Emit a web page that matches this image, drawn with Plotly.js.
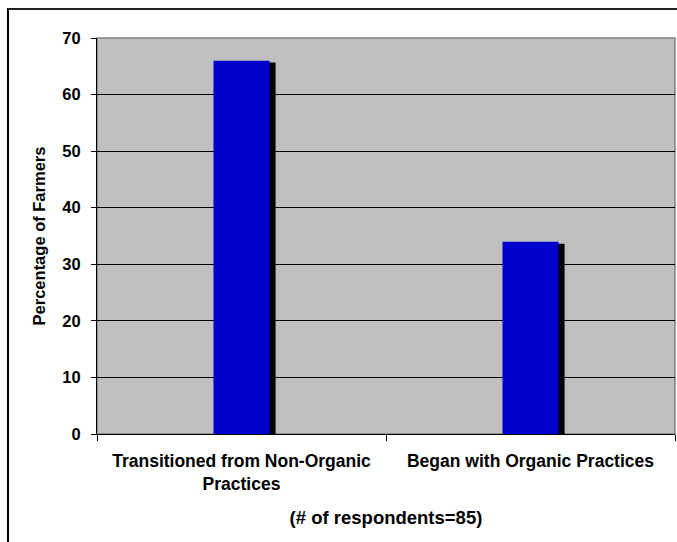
<!DOCTYPE html>
<html>
<head>
<meta charset="utf-8">
<script src="https://cdn.plot.ly/plotly-3.0.1.min.js"></script>
<style>
html,body{margin:0;padding:0;background:#fff;overflow:hidden;}
#wrap{position:relative;width:677px;height:542px;}
#frame{position:absolute;left:7px;top:8px;width:720px;height:600px;border-left:2px solid #000;border-top:2px solid #222;pointer-events:none;z-index:5;}
#chart{position:absolute;left:0;top:0;width:677px;height:542px;}
</style>
</head>
<body>
<div id="wrap">
<div id="chart"></div>
<div id="frame"></div>
</div>
<script>
const categories = ["Transitioned from Non-Organic<br>Practices", "Began with Organic Practices"];
const percentages = [66, 34];
const yTicks = [0, 10, 20, 30, 40, 50, 60, 70];
const yTitle = "Percentage of Farmers";
const xTitle = "(# of respondents=85)";

const barW = 0.194;
const shadowDx = 0.021;
const shadowDy = 0.35;

const shadow = {
  type: 'bar', x: categories, y: percentages.map(v => v - shadowDy),
  width: barW, offset: -barW/2 + shadowDx,
  marker: {color: '#000000', line: {width: 0}},
  hoverinfo: 'skip', showlegend: false
};
const main = {
  type: 'bar', x: categories, y: percentages,
  width: barW, offset: -barW/2,
  marker: {color: '#0000CC', line: {width: 0}},
  showlegend: false
};

const F = 'Arial, "Liberation Sans", sans-serif';
const layout = {
  width: 677, height: 542,
  margin: {l: 97, r: 2, t: 38, b: 108, pad: 0},
  paper_bgcolor: '#ffffff',
  plot_bgcolor: '#C0C0C0',
  barmode: 'overlay',
  font: {family: F, color: '#000', size: 16, weight: 'bold'},
  xaxis: {
    type: 'category',
    showgrid: false,
    showline: true, linecolor: '#000', linewidth: 1,
    ticks: 'outside', tickson: 'boundaries', ticklen: 6, tickcolor: '#000',
    ticklabelstandoff: 11,
    tickfont: {family: F, size: 17.5, weight: 'bold'},
    title: {text: xTitle, font: {family: F, size: 18.5, weight: 'bold'}, standoff: 18},
    fixedrange: true, automargin: false
  },
  yaxis: {
    range: [0, 70],
    tickvals: yTicks,
    showgrid: true, gridcolor: '#000', gridwidth: 1,
    showline: true, linecolor: '#000', linewidth: 1,
    ticks: 'outside', ticklen: 5, tickcolor: '#000',
    ticklabelstandoff: 7,
    tickfont: {family: F, size: 16.5, weight: 'bold'},
    title: {text: yTitle, font: {family: F, size: 16.5, weight: 'bold'}, standoff: 12},
    zeroline: false,
    fixedrange: true, automargin: false
  },
  shapes: [{
    type: 'rect', xref: 'paper', yref: 'paper', x0: 0, x1: 1, y0: 0, y1: 1,
    line: {color: '#808080', width: 1.5}, layer: 'below'
  }]
};

Plotly.newPlot('chart', [shadow, main], layout, {staticPlot: true});
</script>
</body>
</html>
